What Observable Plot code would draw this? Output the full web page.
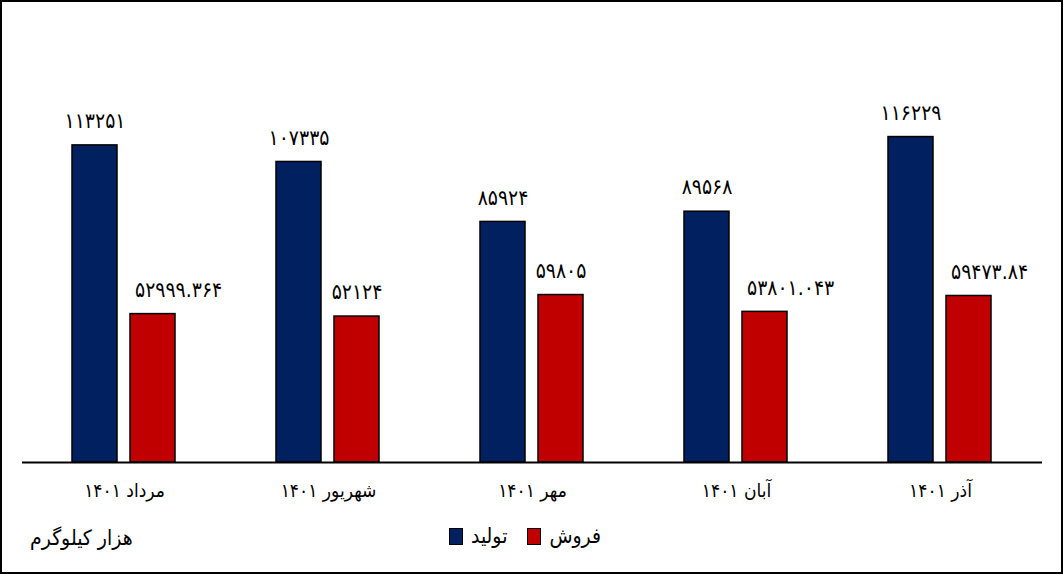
<!DOCTYPE html>
<html>
<head>
<meta charset="utf-8">
<script src="https://cdn.jsdelivr.net/npm/d3@7"></script>
<script src="https://cdn.jsdelivr.net/npm/@observablehq/plot@0.6"></script>
<style>
  html, body { margin: 0; padding: 0; background: #fff; }
  #wrap { position: relative; width: 1063px; height: 574px; border: 2px solid #000; box-sizing: border-box; overflow: hidden;
          font-family: "DejaVu Sans Condensed", "DejaVu Sans", sans-serif; }
  #chart { position: absolute; left: 0; top: 0; }
  #legend { position: absolute; top: 522px; left: 447px; display: flex; align-items: center; font-size: 21px; color: #000; }
  .sw { width: 12px; height: 15px; border: 1.5px solid #000; display: inline-block; }
  #unit { position: absolute; left: 28px; top: 524px; font-size: 21px; direction: rtl; color: #000; }
</style>
</head>
<body>
<div id="wrap">
  <div id="chart"></div>
  <div id="legend">
    <span class="sw" style="background:#002060"></span><span style="margin:0 20px 0 8px">تولید</span>
    <span class="sw" style="background:#c00000"></span><span style="margin-left:8px">فروش</span>
  </div>
  <div id="unit">هزار کیلوگرم</div>
</div>
<script>
const months = ["مرداد ۱۴۰۱", "شهریور ۱۴۰۱", "مهر ۱۴۰۱", "آبان ۱۴۰۱", "آذر ۱۴۰۱"];
const series = ["تولید", "فروش"];
const production = [113251, 107335, 85924, 89568, 116229];
const sales = [52999.364, 52124, 59805, 53801.043, 59473.84];
const colors = ["#002060", "#c00000"];

const fa = s => String(s).replace(/[0-9]/g, d => "۰۱۲۳۴۵۶۷۸۹"[d]);

const data = [];
months.forEach((m, i) => {
  data.push({month: m, series: series[0], value: production[i]});
  data.push({month: m, series: series[1], value: sales[i]});
});
const isLong = d => !Number.isInteger(d.value);

const plot = Plot.plot({
  width: 1059,
  height: 570,
  marginLeft: 18,
  marginRight: 18,
  marginTop: 40,
  marginBottom: 110,
  style: {fontFamily: '"DejaVu Sans Condensed", "DejaVu Sans", sans-serif', fontSize: "19px", color: "#000", background: "transparent"},
  fx: {domain: months, padding: 0, label: null, axis: "bottom", tickSize: 0, tickPadding: 21},
  x: {domain: series, axis: null, paddingInner: 0.22, paddingOuter: 0.844},
  y: {domain: [0, 150000], axis: null},
  color: {domain: series, range: colors},
  marks: [
    Plot.barY(data, {fx: "month", x: "series", y: "value", fill: "series", stroke: "#000", strokeWidth: 1.5}),
    Plot.text(data.filter(d => !isLong(d)), {fx: "month", x: "series", y: "value", text: d => fa(d.value), dy: -24, fontSize: 21, fill: "#000"}),
    Plot.text(data.filter(isLong), {fx: "month", x: "series", y: "value", text: d => fa(d.value), dy: -24, dx: -18, textAnchor: "start", fontSize: 21, fill: "#000"}),
    Plot.ruleY([0], {stroke: "#000", strokeWidth: 2})
  ]
});
document.getElementById("chart").appendChild(plot);
</script>
</body>
</html>
